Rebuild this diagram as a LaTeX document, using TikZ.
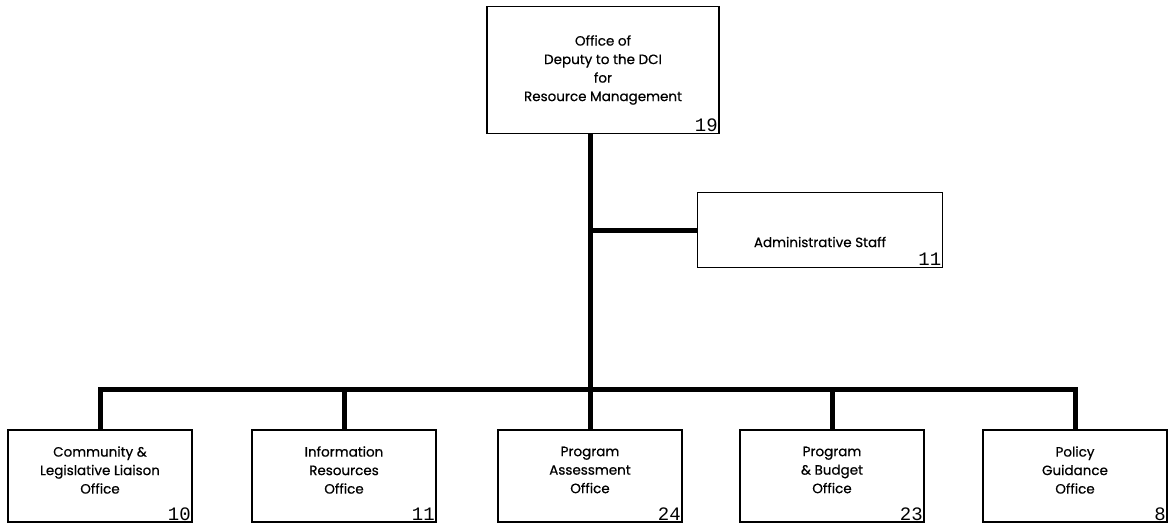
\documentclass[tikz,border=0pt]{standalone}
\usepackage{fontspec}
\setmainfont{Poppins}
\newfontfamily\boxfont[FakeBold=0.6]{Poppins}
\newfontfamily\numfont{Liberation Mono}
\usetikzlibrary{positioning}

\begin{document}
\begin{tikzpicture}[
			x=1pt, y=-1pt,
			thick,
			OfficeBox/.style={
				draw, line width=1.2pt,
				minimum width=184pt, minimum height=92pt,
				inner sep=0pt
			},
			BoxText/.style={
				align=center, inner sep=0pt,
				font=\boxfont\fontsize{13.5}{18.5}\selectfont
			},
			StaffNo/.style={
				anchor=south east, inner xsep=1.5pt, inner ysep=2pt,
				font=\numfont\fontsize{19}{19}\selectfont
			},
			Link/.style={line width=5pt, line join=miter}
			]
			
			\useasboundingbox (0,0) rectangle (1170,523);
			
			% top office
			\path
			(603,70) node [OfficeBox, minimum width=232pt, minimum height=127pt] (DDCI) {}
			(DDCI.center) node [BoxText] (DDCI-t) {Office of\\Deputy to the DCI\\for\\Resource Management}
			(DDCI.south east) node [StaffNo] (DDCI-n) {19};
			
			% staff
			\path
			(820,230) node [OfficeBox, minimum width=245pt, minimum height=75pt] (ADM) {}
			([yshift=-12pt]ADM.center) node [BoxText] (ADM-t) {Administrative Staff}
			(ADM.south east) node [StaffNo] (ADM-n) {11};
			
			% offices
			\path
			(100,476)  node [OfficeBox] (CLL) {}
			(344,476)  node [OfficeBox] (IRO) {}
			(590,476)  node [OfficeBox] (PAO) {}
			(832,476)  node [OfficeBox] (PBO) {}
			(1075,476) node [OfficeBox] (PGO) {};
			
			\path
			([yshift=6pt]CLL.center) node [BoxText] (CLL-t) {Community \&\\Legislative Liaison\\Office}
			([yshift=6pt]IRO.center) node [BoxText] (IRO-t) {Information\\Resources\\Office}
			([yshift=6pt]PAO.center) node [BoxText] (PAO-t) {Program\\Assessment\\Office}
			([yshift=6pt]PBO.center) node [BoxText] (PBO-t) {Program\\\& Budget\\Office}
			([yshift=6pt]PGO.center) node [BoxText] (PGO-t) {Policy\\Guidance\\Office};
			
			\path
			(CLL.south east) node [StaffNo] (CLL-n) {10}
			(IRO.south east) node [StaffNo] (IRO-n) {11}
			(PAO.south east) node [StaffNo] (PAO-n) {24}
			(PBO.south east) node [StaffNo] (PBO-n) {23}
			(PGO.south east) node [StaffNo] (PGO-n) {8};
			
			\coordinate (HUB) at (590,389);
			
			\draw [Link]
			(HUB |- DDCI.south) -- (HUB)
			(HUB |- ADM.west) -- (ADM.west)
			(CLL.north) |- (HUB) -| (PGO.north)
			(IRO.north) -- (IRO.north |- HUB)
			(PAO.north) -- (PAO.north |- HUB)
			(PBO.north) -- (PBO.north |- HUB);
		\end{tikzpicture}
\end{document}
